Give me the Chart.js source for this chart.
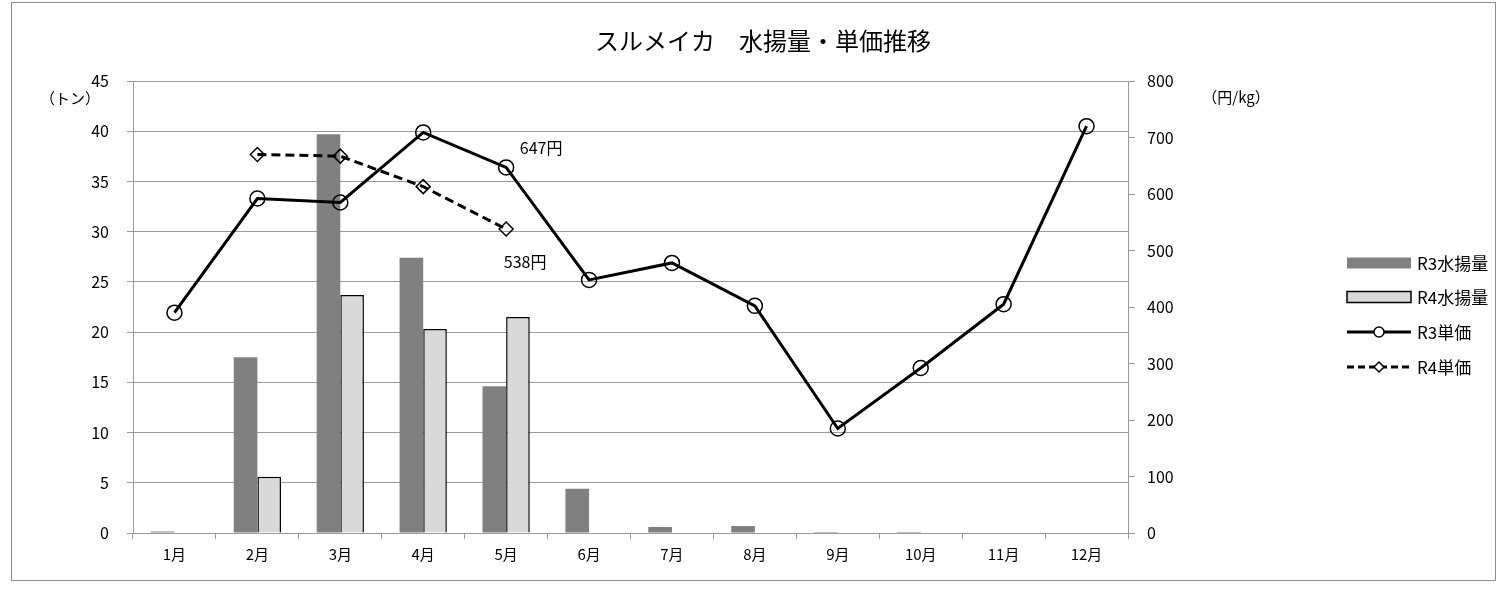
<!DOCTYPE html>
<html>
<head>
<meta charset="utf-8">
<script src="https://cdn.jsdelivr.net/npm/chart.js@4/dist/chart.umd.min.js"></script>
<style>
html,body{margin:0;padding:0;background:#fff;}
#wrap{width:1506px;height:589px;position:relative;}
</style>
</head>
<body>
<div id="wrap"><canvas id="c"></canvas></div>
<script>
const categories = ['1月','2月','3月','4月','5月','6月','7月','8月','9月','10月','11月','12月'];
const r3Volume = [0.15, 17.5, 39.7, 27.4, 14.6, 4.4, 0.6, 0.7, 0.1, 0.1, 0, 0];
const r4Volume = [null, 5.6, 23.7, 20.3, 21.5, null, null, null, null, null, null, null];
const r3Price = [390, 592, 585, 709, 647, 448, 478, 402, 185, 292, 405, 720];
const r4Price = [null, 670, 667, 613, 538, null, null, null, null, null, null, null];
const seriesNames = ['R3水揚量', 'R4水揚量', 'R3単価', 'R4単価'];
const titleText = 'スルメイカ\u3000水揚量・単価推移';
const leftUnit = '（トン）';
const rightUnit = '（円/kg）';
const unitSuffix = '円';

const FONT = "'Noto Sans CJK JP', 'Noto Sans', sans-serif";
Chart.defaults.font.family = FONT;
Chart.defaults.font.size = 16;
Chart.defaults.color = '#000';

const GRID = '#9a9a9a';

const decorPlugin = {
  id: 'decor',
  beforeDraw(chart) {
    const ctx = chart.ctx;
    ctx.save();
    ctx.fillStyle = '#fff';
    ctx.fillRect(0, 0, chart.width, chart.height);
    ctx.strokeStyle = '#8c8c8c';
    ctx.lineWidth = 1;
    ctx.strokeRect(11.5, 2.5, 1484, 578);
    ctx.restore();
  },
  afterDraw(chart) {
    const ctx = chart.ctx;
    ctx.save();
    ctx.fillStyle = '#000';
    // title
    ctx.font = '24px ' + FONT;
    ctx.textAlign = 'center';
    ctx.textBaseline = 'middle';
    ctx.fillText(titleText, 763, 41);
    // axis units
    ctx.font = '15px ' + FONT;
    ctx.fillText(leftUnit, 70, 98);
    ctx.fillText(rightUnit, 1236, 97);
    // data labels
    ctx.font = '16px ' + FONT;
    const m3 = chart.getDatasetMeta(2).data[4];
    if (m3) ctx.fillText(r3Price[4] + unitSuffix, m3.x + 35, m3.y - 20);
    const m4 = chart.getDatasetMeta(3).data[4];
    if (m4) ctx.fillText(r4Price[4] + unitSuffix, m4.x + 19, m4.y + 33);
    // legend
    const lx0 = 1347, lx1 = 1411, tx = 1417;
    const rows = [263, 297, 332, 367];
    ctx.textAlign = 'left';
    // row 1
    ctx.fillStyle = '#808080';
    ctx.fillRect(lx0, rows[0] - 5.5, lx1 - lx0, 11);
    // row 2
    ctx.fillStyle = '#d9d9d9';
    ctx.fillRect(lx0, rows[1] - 5.5, lx1 - lx0, 11);
    ctx.strokeStyle = '#000';
    ctx.lineWidth = 1.5;
    ctx.strokeRect(lx0, rows[1] - 5.5, lx1 - lx0, 11);
    // row 3
    ctx.lineWidth = 3;
    ctx.beginPath(); ctx.moveTo(lx0, rows[2]); ctx.lineTo(lx1, rows[2]); ctx.stroke();
    ctx.fillStyle = '#fff';
    ctx.lineWidth = 1.5;
    ctx.beginPath(); ctx.arc((lx0 + lx1) / 2, rows[2], 5, 0, Math.PI * 2); ctx.fill(); ctx.stroke();
    // row 4
    ctx.lineWidth = 3;
    ctx.setLineDash([7, 4]);
    ctx.beginPath(); ctx.moveTo(lx0, rows[3]); ctx.lineTo(lx1, rows[3]); ctx.stroke();
    ctx.setLineDash([]);
    ctx.lineWidth = 1.5;
    const cx = (lx0 + lx1) / 2, r = 5;
    ctx.beginPath(); ctx.moveTo(cx, rows[3] - r); ctx.lineTo(cx + r, rows[3]); ctx.lineTo(cx, rows[3] + r); ctx.lineTo(cx - r, rows[3]); ctx.closePath();
    ctx.fill(); ctx.stroke();
    ctx.fillStyle = '#000';
    ctx.font = '17px ' + FONT;
    rows.forEach((y, i) => ctx.fillText(seriesNames[i], tx, y + 1));
    ctx.restore();
  }
};

new Chart(document.getElementById('c'), {
  type: 'bar',
  data: {
    labels: categories,
    datasets: [
      { type: 'bar', label: seriesNames[0], data: r3Volume, yAxisID: 'y', order: 2,
        backgroundColor: '#808080', borderWidth: 0, barPercentage: 1.0, categoryPercentage: 0.57 },
      { type: 'bar', label: seriesNames[1], data: r4Volume, yAxisID: 'y', order: 2,
        backgroundColor: '#d9d9d9', borderColor: '#000', borderWidth: 1.5, barPercentage: 1.0, categoryPercentage: 0.57 },
      { type: 'line', label: seriesNames[2], data: r3Price, yAxisID: 'y1', order: 1,
        borderColor: '#000', borderWidth: 3, backgroundColor: 'rgba(0,0,0,0)', fill: false, tension: 0,
        pointStyle: 'circle', pointRadius: 7.5, pointBorderWidth: 1.5, pointBorderColor: '#000', pointBackgroundColor: 'rgba(0,0,0,0)' },
      { type: 'line', label: seriesNames[3], data: r4Price, yAxisID: 'y1', order: 0,
        borderColor: '#000', borderWidth: 3, borderDash: [9, 5], backgroundColor: 'rgba(0,0,0,0)', fill: false, tension: 0,
        pointStyle: 'rectRot', pointRadius: 7, pointBorderWidth: 1.5, pointBorderColor: '#000', pointBackgroundColor: 'rgba(0,0,0,0)' }
    ]
  },
  options: {
    responsive: true,
    maintainAspectRatio: false,
    animation: false,
    layout: { padding: { left: 0, right: 318, top: 81, bottom: 16 } },
    plugins: { legend: { display: false }, title: { display: false }, tooltip: { enabled: false } },
    scales: {
      x: {
        offset: true,
        grid: { display: true, drawOnChartArea: false, drawTicks: true, tickLength: 6, color: GRID, offset: true },
        border: { display: true, color: GRID, width: 1 },
        ticks: { padding: 6, maxRotation: 0, font: { size: 15 } },
        afterFit(s) { s.height = 40; }
      },
      y: {
        position: 'left', min: 0, max: 45,
        ticks: { stepSize: 5, padding: 18, font: { size: 16 } },
        grid: { color: GRID, drawTicks: true, tickLength: 6 },
        border: { display: true, color: GRID, width: 1 },
        afterFit(s) { s.width = 133; }
      },
      y1: {
        position: 'right', min: 0, max: 800,
        ticks: { stepSize: 100, padding: 12, font: { size: 16 } },
        grid: { drawOnChartArea: false, drawTicks: true, tickLength: 7, color: GRID },
        border: { display: true, color: GRID, width: 1 },
        afterFit(s) { s.width = 60; }
      }
    }
  },
  plugins: [decorPlugin]
});
</script>
</body>
</html>
